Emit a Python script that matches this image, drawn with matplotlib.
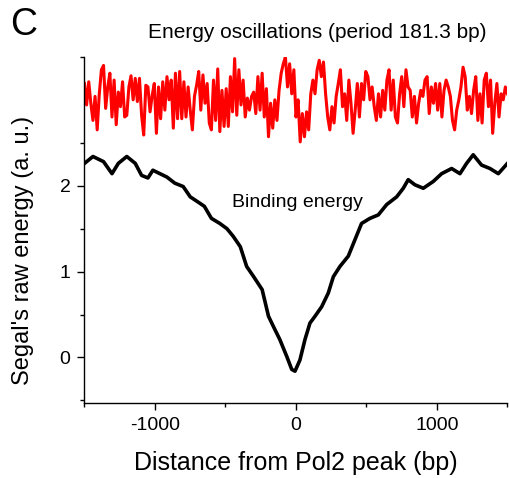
import numpy as np
import matplotlib
matplotlib.use("Agg")
import matplotlib.pyplot as plt
from matplotlib.ticker import FixedLocator

plt.rcParams['font.family'] = ['Liberation Sans', 'DejaVu Sans']
plt.rcParams['axes.unicode_minus'] = False

# binding energy (black)
bind_x = [-1500, -1440, -1365, -1305, -1260, -1200, -1140, -1095, -1050, -1015,
          -965, -915, -860, -800, -750, -695, -650, -600, -540, -490,
          -445, -395, -350, -300, -240, -195, -160, -115, -65, -30,
          -7, 28, 64, 99, 135, 182, 229, 265, 312, 371,
          418, 465, 525, 584, 643, 714, 761, 796, 844, 903,
          974, 1033, 1104, 1163, 1210, 1257, 1316, 1376, 1435, 1500]
bind_y = [2.26, 2.34, 2.28, 2.14, 2.26, 2.34, 2.26, 2.12, 2.09, 2.18,
          2.14, 2.10, 2.03, 1.99, 1.87, 1.81, 1.76, 1.62, 1.56, 1.50,
          1.41, 1.29, 1.06, 0.94, 0.79, 0.48, 0.36, 0.21, 0.01, -0.14,
          -0.16, -0.03, 0.21, 0.40, 0.48, 0.59, 0.75, 0.94, 1.06, 1.18,
          1.37, 1.56, 1.62, 1.66, 1.78, 1.87, 1.97, 2.07, 2.01, 1.97,
          2.05, 2.14, 2.20, 2.14, 2.26, 2.36, 2.24, 2.20, 2.14, 2.26]

# energy oscillations (red), every 15 bp from -1500 to 1500
osc_step = 15
osc_y = [
    3.19, 2.94, 3.21, 2.96, 2.76, 3.04, 2.65, 3.07, 3.35, 3.40,
    2.90, 3.15, 3.31, 2.80, 3.23, 2.71, 3.09, 2.92, 3.21, 2.80,
    2.82, 3.15, 3.28, 3.00, 3.25, 2.98, 3.25, 2.82, 2.59, 3.17,
    3.15, 2.86, 3.05, 3.19, 2.61, 3.15, 2.78, 3.21, 2.88, 3.27,
    3.00, 3.23, 2.67, 3.31, 2.78, 3.33, 2.78, 3.21, 2.80, 3.15,
    2.88, 2.65, 3.04, 3.17, 3.33, 2.88, 3.29, 2.96, 3.19, 2.73,
    2.65, 3.23, 2.76, 3.36, 2.63, 3.11, 2.69, 3.13, 2.69, 3.27,
    2.86, 3.48, 2.82, 3.35, 2.94, 3.23, 2.80, 3.02, 2.88, 3.04,
    3.09, 2.84, 3.27, 2.88, 3.31, 2.80, 3.13, 2.57, 2.96, 2.67,
    3.00, 2.76, 3.11, 3.31, 3.42, 3.50, 3.15, 3.42, 3.07, 3.35,
    2.80, 3.00, 2.51, 2.84, 2.57, 2.86, 2.65, 3.07, 3.23, 3.07,
    3.35, 3.46, 3.27, 3.44, 3.07, 2.80, 2.65, 2.92, 2.73, 3.04,
    3.19, 3.35, 2.92, 3.07, 2.76, 3.23, 2.96, 2.61, 2.88, 3.19,
    2.80, 3.19, 3.00, 3.33, 3.27, 3.00, 3.15, 2.92, 2.76, 3.07,
    2.80, 3.11, 2.88, 3.23, 3.35, 2.88, 3.23, 2.80, 2.73, 3.07,
    3.27, 2.92, 3.35, 3.15, 3.11, 2.80, 3.04, 2.73, 2.96, 3.11,
    3.04, 3.23, 3.27, 2.84, 3.15, 2.96, 3.19, 2.88, 3.19, 2.80,
    3.11, 3.23, 3.15, 3.04, 2.76, 2.65, 2.88, 3.00, 3.15, 3.38,
    3.27, 2.88, 3.04, 2.84, 3.11, 3.27, 2.76, 3.07, 2.73, 3.23,
    3.31, 2.92, 3.23, 2.61, 2.96, 3.19, 2.80, 3.07, 3.00, 3.15,
    3.07]
osc_x = -1500 + osc_step * np.arange(len(osc_y))

fig = plt.figure(figsize=(5.09, 4.78), dpi=100)
ax = fig.add_axes([0.166, 0.157, 0.831, 0.724])

ax.plot(osc_x, osc_y, color='#ff0000', lw=2.2)
ax.plot(bind_x, bind_y, color='black', lw=2.6)

ax.set_xlim(-1500, 1500)
ax.set_ylim(-0.53, 3.5)
ax.set_xticks([-1000, 0, 1000])
ax.xaxis.set_minor_locator(FixedLocator([-1500, -500, 500, 1500]))
ax.set_yticks([0, 1, 2])
ax.yaxis.set_minor_locator(FixedLocator([-0.5, 0.5, 1.5, 2.5, 3.5]))
ax.tick_params(which='major', direction='out', length=5, width=1, labelsize=14, pad=5)
ax.tick_params(which='minor', direction='out', length=3, width=1)
for s in ['top', 'right']:
    ax.spines[s].set_visible(False)
for s in ['left', 'bottom']:
    ax.spines[s].set_linewidth(1)

ax.set_xlabel('Distance from Pol2 peak (bp)', fontsize=18, labelpad=12)
ax.set_ylabel("Segal's raw energy (a. u.)", fontsize=17)
ax.yaxis.set_label_coords(-0.12, 0.442)

ax.text(10, 1.80, 'Binding energy', fontsize=14, ha='center', va='center')
fig.text(0.623, 0.933, 'Energy oscillations (period 181.3 bp)', fontsize=15,
         ha='center', va='center')
fig.text(0.02, 0.947, 'C', fontsize=27, ha='left', va='center')

fig.savefig('out.png', dpi=100)
